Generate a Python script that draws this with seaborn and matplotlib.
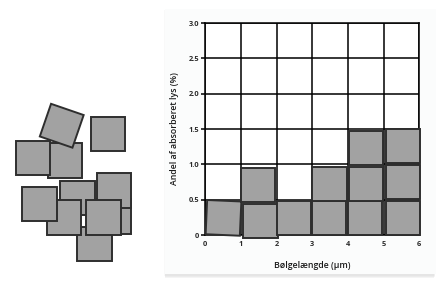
import matplotlib
matplotlib.use("Agg")
import matplotlib.pyplot as plt
import matplotlib.patches as mpatches
import matplotlib.transforms as mtransforms
import seaborn as sns
import numpy as np
import pandas as pd

# ---- data ----
bin_left = [0, 1, 2, 3, 4, 5]          # wavelength bins (µm)
squares_per_bin = [1, 2, 1, 2, 3, 3]   # number of 0.5 % squares in each bin
square_value = 0.5                      # each square = 0.5 %
x_ticks = [0, 1, 2, 3, 4, 5, 6]
x_tick_labels = ["0", "1", "2", "3", "4", "5", "6"]
y_ticks = [0, 0.5, 1.0, 1.5, 2.0, 2.5, 3.0]
y_tick_labels = ["0", "0.5", "1.0", "1.5", "2.0", "2.5", "3.0"]
x_label = "Bølgelængde (µm)"
y_label = "Andel af absorberet lys (%)"

# ---- style: hand-placed jitter for each stacked square (dx, dy, angle) ----
jitter = {
    (0, 0): (0.03, 0.0, -2.5),
    (1, 0): (0.065, -0.04, 0.0),
    (1, 1): (0.0, -0.03, 0.0),
    (2, 0): (0.0, 0.0, 0.0),
    (3, 0): (-0.01, 0.0, 0.0),
    (3, 1): (0.0, -0.02, 0.0),
    (4, 0): (-0.01, 0.0, 0.0),
    (4, 1): (0.03, -0.02, 0.0),
    (4, 2): (0.03, -0.01, 0.0),
    (5, 0): (0.06, 0.0, 0.0),
    (5, 1): (0.06, 0.01, 0.0),
    (5, 2): (0.06, 0.02, 0.0),
}
# decorative loose squares on the left (pixel coordinates: x, y top-left, angle)
loose = [
    (77.3, 226.7, 0), (96.7, 199.3, 0), (96.7, 173.3, 0), (60.0, 180.7, 0),
    (46.7, 200.0, 0), (22.3, 186.7, 0), (86.0, 200.0, 0),
    (47.7, 143.3, 0), (15.7, 140.7, 0), (44.5, 108.5, 19), (90.7, 116.7, 0),
]

FILL = "#a2a2a2"
EDGE = "#2e2e2e"

sns.set_theme(style="white")
plt.rcParams["font.family"] = ["Open Sans", "DejaVu Sans"]

W, H = 438, 281
fig = plt.figure(figsize=(W / 100, H / 100), dpi=100)
fig.patch.set_facecolor("white")

# card with soft shadow
bg = fig.add_axes([0, 0, 1, 1])
bg.set_xlim(0, W)
bg.set_ylim(H, 0)
bg.axis("off")
for i, a in enumerate([0.05, 0.07, 0.09]):
    bg.add_patch(mpatches.Rectangle((165 - 1 + i * 0.5, 9 + 1 + i), 271 - i, 266,
                                    facecolor="#000000", alpha=a * 0.5, edgecolor="none"))
bg.add_patch(mpatches.Rectangle((165, 9), 271, 265, facecolor="#fbfcfc", edgecolor="none"))

# decorative loose squares
sz = 34.5
for (x, y, ang) in loose:
    r = mpatches.Rectangle((x, y), sz, sz, facecolor=FILL, edgecolor=EDGE, linewidth=1.4)
    cx, cy = x + sz / 2, y + sz / 2
    r.set_transform(mtransforms.Affine2D().rotate_deg_around(cx, cy, ang) + bg.transData)
    bg.add_patch(r)

# chart
ax = fig.add_axes([205.3 / W, 1 - 235 / H, 214 / W, 212 / H])
ax.set_xlim(0, 6)
ax.set_ylim(0, 3)
ax.set_facecolor("white")
for xv in x_ticks:
    ax.axvline(xv, color="black", linewidth=1.1, zorder=1)
for yv in y_ticks:
    ax.axhline(yv, color="black", linewidth=1.1, zorder=1)
for s in ax.spines.values():
    s.set_color("black")
    s.set_linewidth(1.1)

rows = []
for b, n in zip(bin_left, squares_per_bin):
    for lvl in range(n):
        rows.append({"bin": b, "level": lvl})
df = pd.DataFrame(rows)

w, h = 0.96, 0.485
for _, r in df.iterrows():
    b, lvl = int(r["bin"]), int(r["level"])
    dx, dy, ang = jitter.get((b, lvl), (0, 0, 0))
    x0 = b + dx
    y0 = lvl * square_value + dy
    rect = mpatches.Rectangle((x0, y0), w, h, facecolor=FILL, edgecolor=EDGE,
                              linewidth=1.4, zorder=3, clip_on=False)
    cx, cy = x0 + w / 2, y0 + h / 2
    disp = ax.transData.transform((cx, cy))
    rect.set_transform(ax.transData + mtransforms.Affine2D().rotate_deg_around(disp[0], disp[1], ang))
    ax.add_patch(rect)

ax.set_xticks(x_ticks)
ax.set_xticklabels(x_tick_labels)
ax.set_yticks(y_ticks)
ax.set_yticklabels(y_tick_labels)
ax.tick_params(axis="both", which="both", labelsize=5.3, colors="black",
               length=3, width=1.1, pad=1.5, direction="out", left=True, bottom=False)
ax.tick_params(axis="both", labelcolor="#2a2a2a")
for lab in ax.get_xticklabels() + ax.get_yticklabels():
    lab.set_fontweight("bold")
ax.set_xlabel(x_label, fontsize=6.3, color="#1a1a1a", labelpad=9, fontweight="semibold")
ax.set_ylabel(y_label, fontsize=6.3, color="#1a1a1a", labelpad=7, fontweight="semibold")
ax.grid(False)

fig.savefig("out.png", dpi=100)
